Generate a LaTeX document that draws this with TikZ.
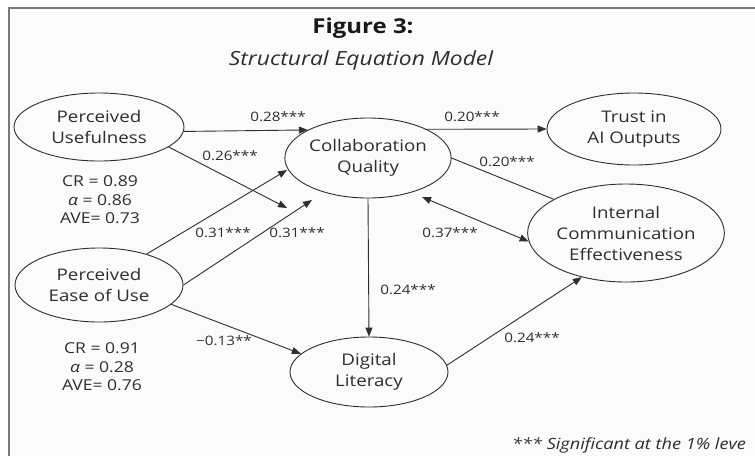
\documentclass[tikz,border=0pt]{standalone}
\usepackage{fontspec}
\setmainfont{Open Sans}[FakeStretch=1.17]
\usetikzlibrary{shapes.geometric,arrows.meta}
\definecolor{ink}{HTML}{2E2E2E}
\definecolor{framecol}{HTML}{7A7A7A}
\definecolor{paper}{HTML}{FBFBFB}
\begin{document}
\begin{tikzpicture}[x=1pt,y=-1pt,
  lat/.style={ellipse,draw=ink,line width=0.9pt,inner sep=0pt,align=center,text=ink,font=\fontsize{16}{21}\selectfont},
  conn/.style={draw=ink,line width=0.9pt},
  arr/.style={conn,-{Triangle[length=9pt,width=7pt]}},
  darr/.style={conn,{Triangle[length=9pt,width=7pt]}-{Triangle[length=9pt,width=7pt]}},
  coef/.style={text=ink,font=\fontsize{13}{15}\selectfont,inner sep=0pt},
  stat/.style={text=ink,align=center,font=\fontsize{15}{18.5}\selectfont,inner sep=0pt}]
\useasboundingbox (0,0) rectangle (755,456);
\clip (0,0) rectangle (755,456);
\fill[white] (0,0) rectangle (755,456);
\fill[paper] (9,8) rectangle (755,456);
\draw[framecol,line width=2pt] (9,456) -- (9,8) -- (755,8);

% titles
\node[font=\fontsize{20.5}{24}\selectfont\bfseries,text=black!90] (title) at (363,28) {Figure 3:};
\node[font=\fontsize{19.5}{23}\selectfont\itshape,text=ink] (sub) at (361,60) {Structural Equation Model};

% latent variables
\node[lat,minimum width=170pt,minimum height=68pt] (PU) at (99,127) {Perceived\\Usefulness};
\node[lat,minimum width=154pt,minimum height=80pt] (CQ) at (368,158) {Collaboration\\Quality};
\node[lat,minimum width=174pt,minimum height=72pt] (T) at (634,129) {Trust in\\AI Outputs};
\node[lat,minimum width=193pt,minimum height=98pt] (ICE) at (626,233) {Internal\\Communication\\Effectiveness};
\node[lat,minimum width=168pt,minimum height=74pt] (PEU) at (99,285) {Perceived\\Ease of Use};
\node[lat,minimum width=158pt,minimum height=70pt] (DL) at (369,372) {Digital\\Literacy};

% reliability statistics
\node[stat] (s1) at (100,200) {CR = 0.89\\\textit{α} = 0.86\\AVE= 0.73};
\node[stat] (s2) at (102,367) {CR = 0.91\\\textit{α} = 0.28\\AVE= 0.76};

% free arrow ends
\coordinate (e2) at (287,208);
\coordinate (e3) at (287,170);
\coordinate (e4) at (312,200);
\coordinate (e9) at (422,197);

% paths
\draw[arr] (PU.-3) -- (CQ.155);
\draw[arr] (PU.-16) -- (e2);
\draw[arr] (PEU.33) -- (e3);
\draw[arr] (PEU.east) -- (e4);
\draw[arr] (PEU.-15) -- (DL.165);
\draw[arr] (CQ.south) -- (DL.north);
\draw[arr] (CQ.26) -- (T.west);
\draw[conn] (CQ.east) -- (ICE.155);
\draw[darr] (e9) -- (ICE.185);
\draw[arr] (DL.5) -- (ICE.225);

% coefficients
\node[coef] (l1) at (278,117) {0.28***};
\node[coef] (l2) at (230,156) {0.26***};
\node[coef] (l3) at (223,233) {0.31***};
\node[coef] (l4) at (297,233) {0.31***};
\node[coef] (l5) at (224,341) {−0.13**};
\node[coef] (l6) at (408,290) {0.24***};
\node[coef] (l7) at (472,117) {0.20***};
\node[coef] (l8) at (507,162) {0.20***};
\node[coef] (l9) at (450,233) {0.37***};
\node[coef] (l10) at (532,338) {0.24***};

% footnote
\node[anchor=base west,font=\fontsize{15.5}{18}\selectfont\itshape,text=ink,inner sep=0pt] (fn) at (512,449) {*** Significant at the 1\% leve};
\end{tikzpicture}
\end{document}
